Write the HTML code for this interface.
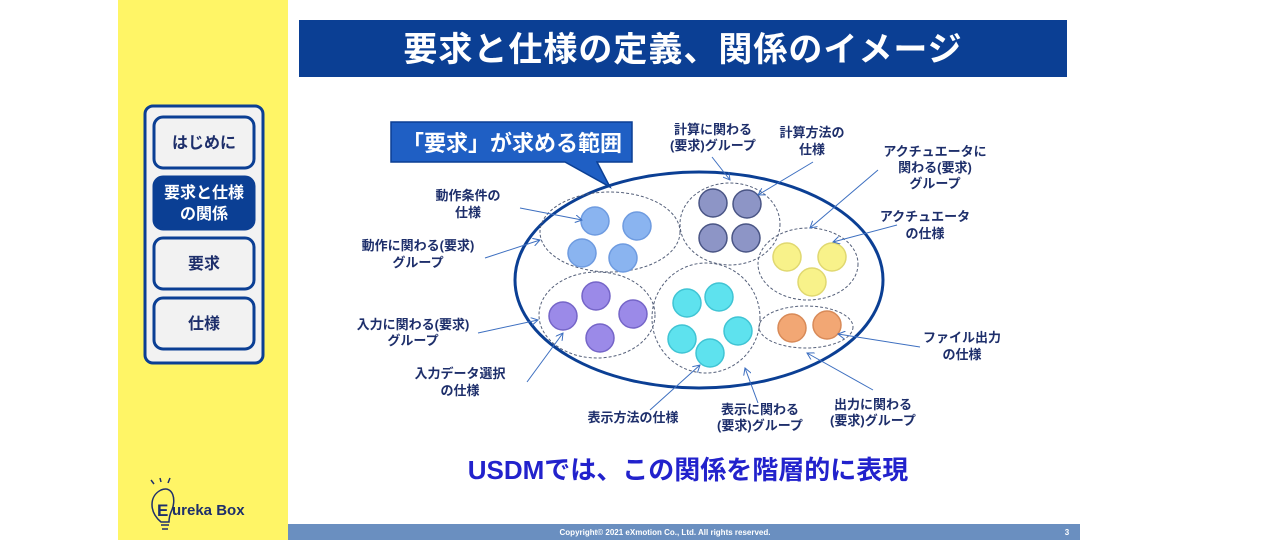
<!DOCTYPE html>
<html><head><meta charset="utf-8"><style>
html,body{margin:0;padding:0;background:#fff;}
svg{display:block;font-family:"Liberation Sans","Noto Sans CJK JP",sans-serif;}
</style></head><body>
<svg width="1280" height="540" viewBox="0 0 1280 540" xmlns="http://www.w3.org/2000/svg">
<defs>
<marker id="ah" markerWidth="8" markerHeight="8" refX="7" refY="4" orient="auto" markerUnits="userSpaceOnUse">
<path d="M0,0 L7,4 L0,8" fill="none" stroke="#3D6FC0" stroke-width="1"/></marker>
</defs>
<rect x="0" y="0" width="1280" height="540" fill="#fff"/>
<rect x="118" y="0" width="170" height="540" fill="#FFF566"/>
<!-- title -->
<rect x="299" y="20" width="768" height="57" fill="#0B3F94"/>
<text x="683" y="61" text-anchor="middle" font-size="34" font-weight="bold" fill="#fff" letter-spacing="1">要求と仕様の定義、関係のイメージ</text>
<!-- nav -->
<rect x="145" y="106" width="118" height="257" rx="8" fill="#F2F2F2" stroke="#0B3F94" stroke-width="3"/>
<g font-size="16" font-weight="bold" text-anchor="middle">
<rect x="154" y="117" width="100" height="51" rx="9" fill="#F2F2F2" stroke="#0B3F94" stroke-width="3"/>
<text x="204" y="148" fill="#1E2F6B">はじめに</text>
<rect x="154" y="177" width="100" height="52" rx="9" fill="#0B3F94" stroke="#0B3F94" stroke-width="3"/>
<text x="204" y="198" fill="#fff">要求と仕様</text>
<text x="204" y="219" fill="#fff">の関係</text>
<rect x="154" y="238" width="100" height="51" rx="9" fill="#F2F2F2" stroke="#0B3F94" stroke-width="3"/>
<text x="204" y="269" fill="#1E2F6B">要求</text>
<rect x="154" y="298" width="100" height="51" rx="9" fill="#F2F2F2" stroke="#0B3F94" stroke-width="3"/>
<text x="204" y="329" fill="#1E2F6B">仕様</text>
</g>
<!-- callout -->
<path d="M391,122 H632 V162 H597 L610,187 L565,162 H391 Z" fill="#1F5FC4" stroke="#0B3F94" stroke-width="1.5"/>
<text x="512" y="151" text-anchor="middle" font-size="22" font-weight="bold" fill="#fff">「要求」が求める範囲</text>
<!-- big ellipse -->
<ellipse cx="699" cy="280" rx="184" ry="108" fill="none" stroke="#0B3F94" stroke-width="3"/>
<g fill="none" stroke="#55607A" stroke-width="1" stroke-dasharray="3,2">
<ellipse cx="610" cy="232" rx="70" ry="40"/>
<ellipse cx="730" cy="224" rx="50" ry="41"/>
<ellipse cx="808" cy="264" rx="50" ry="36"/>
<ellipse cx="806" cy="327" rx="47" ry="21"/>
<ellipse cx="706" cy="318" rx="54" ry="55"/>
<ellipse cx="597" cy="315" rx="58" ry="43"/>
</g>
<!-- circles -->
<g stroke-width="1.5">
<g fill="#8AB4F0" stroke="#6E9BE0"><circle cx="595" cy="221" r="14"/><circle cx="637" cy="226" r="14"/><circle cx="582" cy="253" r="14"/><circle cx="623" cy="258" r="14"/></g>
<g fill="#8D95C6" stroke="#4A5585"><circle cx="713" cy="203" r="14"/><circle cx="747" cy="204" r="14"/><circle cx="713" cy="238" r="14"/><circle cx="746" cy="238" r="14"/></g>
<g fill="#F8F28A" stroke="#E0D870"><circle cx="787" cy="257" r="14"/><circle cx="832" cy="257" r="14"/><circle cx="812" cy="282" r="14"/></g>
<g fill="#F2A774" stroke="#D88A58"><circle cx="792" cy="328" r="14"/><circle cx="827" cy="325" r="14"/></g>
<g fill="#5EE2EE" stroke="#40C4D4"><circle cx="687" cy="303" r="14"/><circle cx="719" cy="297" r="14"/><circle cx="682" cy="339" r="14"/><circle cx="738" cy="331" r="14"/><circle cx="710" cy="353" r="14"/></g>
<g fill="#9B8AE8" stroke="#7565C8"><circle cx="563" cy="316" r="14"/><circle cx="596" cy="296" r="14"/><circle cx="633" cy="314" r="14"/><circle cx="600" cy="338" r="14"/></g>
</g>
<!-- arrows -->
<g stroke="#3D6FC0" stroke-width="1" marker-end="url(#ah)">
<line x1="520" y1="208" x2="582" y2="220"/>
<line x1="485" y1="258" x2="540" y2="240"/>
<line x1="478" y1="333" x2="538" y2="320"/>
<line x1="527" y1="382" x2="563" y2="333"/>
<line x1="650" y1="410" x2="700" y2="365"/>
<line x1="758" y1="403" x2="745" y2="368"/>
<line x1="873" y1="390" x2="807" y2="353"/>
<line x1="920" y1="347" x2="838" y2="334"/>
<line x1="897" y1="225" x2="833" y2="242"/>
<line x1="878" y1="170" x2="810" y2="228"/>
<line x1="813" y1="162" x2="758" y2="195"/>
<line x1="712" y1="157" x2="730" y2="180"/>
</g>
<!-- labels -->
<g font-size="13" font-weight="bold" fill="#1E2F6B" text-anchor="middle">
<text x="468" y="200">動作条件の</text><text x="468" y="217">仕様</text>
<text x="418" y="250">動作に関わる(要求)</text><text x="418" y="267">グループ</text>
<text x="413" y="329">入力に関わる(要求)</text><text x="413" y="345">グループ</text>
<text x="460" y="378">入力データ選択</text><text x="460" y="395">の仕様</text>
<text x="633" y="422">表示方法の仕様</text>
<text x="760" y="414">表示に関わる</text><text x="760" y="430">(要求)グループ</text>
<text x="873" y="409">出力に関わる</text><text x="873" y="425">(要求)グループ</text>
<text x="962" y="342">ファイル出力</text><text x="962" y="359">の仕様</text>
<text x="925" y="221">アクチュエータ</text><text x="925" y="238">の仕様</text>
<text x="935" y="156">アクチュエータに</text><text x="935" y="172">関わる(要求)</text><text x="935" y="188">グループ</text>
<text x="812" y="137">計算方法の</text><text x="812" y="154">仕様</text>
<text x="713" y="134">計算に関わる</text><text x="713" y="150">(要求)グループ</text>
</g>
<text x="688" y="479" text-anchor="middle" font-size="26" font-weight="bold" fill="#2222CC">USDMでは、この関係を階層的に表現</text>
<!-- footer -->
<rect x="288" y="524" width="792" height="16" fill="#6A8FC0"/>
<text x="665" y="535" text-anchor="middle" font-size="8" font-weight="bold" fill="#fff">Copyright© 2021 eXmotion Co., Ltd. All rights reserved.</text>
<text x="1067" y="535" text-anchor="middle" font-size="8" font-weight="bold" fill="#fff">3</text>
<!-- logo -->
<g stroke="#1E2F6B" stroke-width="1.5" fill="none">
<path d="M161,522 C149,512 149,496 161,490 C173,485 177,500 171,512 C169,517 169,520 169,522 Z"/>
<line x1="161" y1="525" x2="169" y2="525"/><line x1="162" y1="529" x2="168" y2="529"/>
<line x1="154" y1="484" x2="151" y2="480"/><line x1="161" y1="482" x2="160" y2="478"/><line x1="168" y1="483" x2="170" y2="478"/>
</g>
<text x="157" y="516" font-size="17" font-weight="bold" fill="#1E2F6B">E</text>
<text x="172" y="515" font-size="15" font-weight="bold" fill="#1E2F6B">ureka Box</text>
</svg>
</body></html>
